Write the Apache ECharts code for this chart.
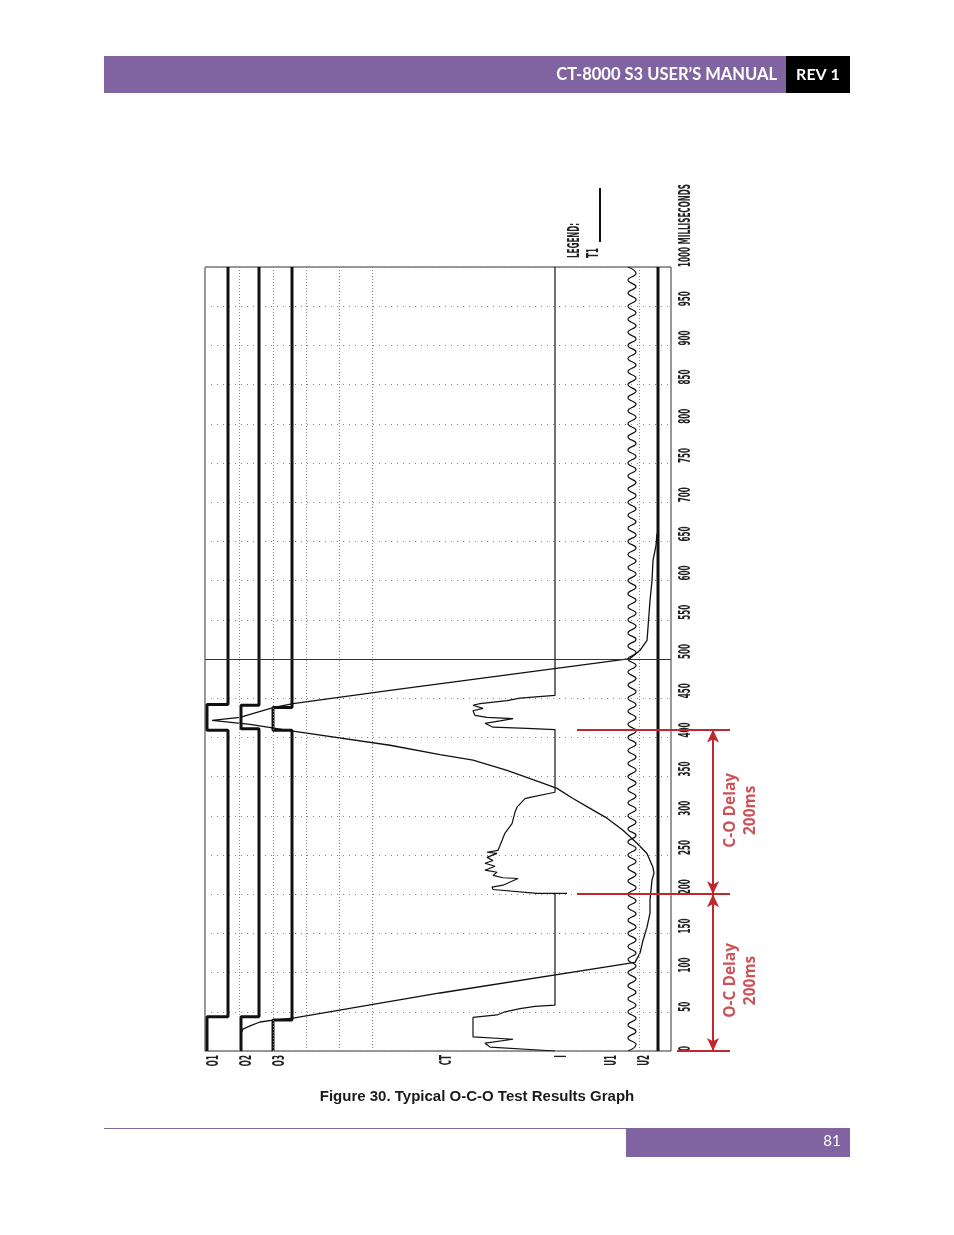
<!DOCTYPE html>
<html><head><meta charset="utf-8">
<script src="https://cdn.jsdelivr.net/npm/echarts@6/dist/echarts.min.js"></script>
<style>html,body{margin:0;padding:0;background:#fff}#c{width:954px;height:1235px}</style>
</head><body><div id="c"></div>
<script>
// ---------- DATA (time in ms on the vertical axis, plot position units across) ----------
const tickValues = [0,50,100,150,200,250,300,350,400,450,500,550,600,650,700,750,800,850,900,950,1000];
const tickLabels = ['0','50','100','150','200','250','300','350','400','450','500','550','600','650','700','750','800','850','900','950','1000 MILLISECONDS'];
const channelNames = ['O1','O2','O3','CT','I','U1','U2'];
const channelLabelPos = [2,35,68,235,350,400,433];
const verticalGuides = [34,68,101,134,167,434];
const cursorTime = [500];

const o1 = [[2,0],[2,43.7],[23,43.7],[23,409],[2,409],[2,442],[23,442],[23,1000]];
const o2 = [[36,0],[36,43.7],[54,43.7],[54,411],[36,411],[36,441],[54,441],[54,1000]];
const o3 = [[68,0],[68,39.5],[87,39.5],[87,409],[68,409],[68,438],[87,438],[87,1000]];

const travelT1 = [[36,0],[36,22.5],[38,28],[45,32],[55,37],[68,39.5],[88,42],[235,74],[430,113],[435,125],[438,141],[442,158],[445,176],[445,192],[447,218],[449,227],[448,234],[442,252],[432,265],[418,281.5],[402,297],[385,309.5],[368,322],[352,335],[335,343],[302,358],[268,371],[235,378],[185,390],[88,408],[45,416.5],[7,421.6],[35,425.5],[68,438],[88,443],[185,460],[425,500.6],[435,511],[442,523.6],[443,540],[445,574.5],[447,600],[448,625.5],[451,645],[452,660]];

const currentI = [[350,0],[350,1],[285,5],[280,10],[308,15],[268,18],[268,43],[292,46],[300,50],[315,54],[330,57],[350,58.6],[350,201],[362,201],[332,201],[288,206],[287,209],[298,211.5],[313,220],[298,221],[288,224],[292,228],[280,230.6],[290,235.7],[280,239.5],[288,243],[282,247],[292,252],[282,253.5],[293,256],[295,262],[300,278],[307,290],[310,304.5],[312,311],[320,322],[325,323.6],[350,330],[350,410],[322,411.5],[288,413],[280,418],[295,421],[308,424],[282,425.5],[270,428],[268,434],[278,437],[268,441],[275,443],[302,447],[315,450],[350,453.5],[350,1000]];

const voltageU1 = [
[423,0],[431,8.3],[423,16.7],[431,25],[423,33.3],[431,41.7],[423,50],[431,58.3],[423,66.7],[431,75],[423,83.3],[431,91.7],
[423,100],[431,108.3],[423,116.7],[431,125],[423,133.3],[431,141.7],[423,150],[431,158.3],[423,166.7],[431,175],[423,183.3],[431,191.7],
[423,200],[431,208.3],[423,216.7],[431,225],[423,233.3],[431,241.7],[423,250],[431,258.3],[423,266.7],[431,275],[423,283.3],[431,291.7],
[423,300],[431,308.3],[423,316.7],[431,325],[423,333.3],[431,341.7],[423,350],[431,358.3],[423,366.7],[431,375],[423,383.3],[431,391.7],
[423,400],[431,408.3],[423,416.7],[431,425],[423,433.3],[431,441.7],[423,450],[431,458.3],[423,466.7],[431,475],[423,483.3],[431,491.7],
[423,500],[431,508.3],[423,516.7],[431,525],[423,533.3],[431,541.7],[423,550],[431,558.3],[423,566.7],[431,575],[423,583.3],[431,591.7],
[423,600],[431,608.3],[423,616.7],[431,625],[423,633.3],[431,641.7],[423,650],[431,658.3],[423,666.7],[431,675],[423,683.3],[431,691.7],
[423,700],[431,708.3],[423,716.7],[431,725],[423,733.3],[431,741.7],[423,750],[431,758.3],[423,766.7],[431,775],[423,783.3],[431,791.7],
[423,800],[431,808.3],[423,816.7],[431,825],[423,833.3],[431,841.7],[423,850],[431,858.3],[423,866.7],[431,875],[423,883.3],[431,891.7],
[423,900],[431,908.3],[423,916.7],[431,925],[423,933.3],[431,941.7],[423,950],[431,958.3],[423,966.7],[431,975],[423,983.3],[431,991.7],
[423,1000]];
const voltageU2 = [[453,0],[453,1000]];

// annotation (red) : delay boundaries and labels
const delayBounds = [0,200,410];
const delayLabels = ['O-C Delay\n200ms','C-O Delay\n200ms'];
const delayLabelTimes = [90,307];

// ---------- CHART ----------
const PLOT_FONT = "'DejaVu Sans',sans-serif";
const SQUEEZE = 0.48;   // plotter-style condensed lettering
const RED = '#C1272D';
const INK = '#111';
const chart = echarts.init(document.getElementById('c'));

const traceLine = (name, data, width, extra) => Object.assign({
  name, type:'line', data, xAxisIndex:0, yAxisIndex:0, showSymbol:false, symbol:'none',
  lineStyle:{color:INK, width}, silent:true, animation:false, z:3
}, extra||{});

const condensedText = (name, data, texts, dx, dy, align) => ({
  name, type:'custom', xAxisIndex:0, yAxisIndex:0, silent:true, clip:false, animation:false, data,
  renderItem:(params, api) => {
    const p = api.coord([api.value(0), api.value(1)]);
    return {type:'text', x:p[0]+dx, y:p[1]+dy, rotation:Math.PI/2, scaleX:SQUEEZE, scaleY:1,
      style:{text:texts[params.dataIndex], align, verticalAlign:'top', fontFamily:PLOT_FONT, fontWeight:'bold', fontSize:15, fill:'#222'}};
  }
});

chart.setOption({
  animation:false,
  backgroundColor:'#fff',
  title:{text:'Figure 30. Typical O-C-O Test Results Graph', left:'center', top:1084,
    textStyle:{fontFamily:"'Liberation Sans',Arial,sans-serif", fontWeight:'bold', fontSize:15, color:'#1a1a1a'}},
  grid:[
    {left:205, right:283, top:267, bottom:184, show:true, borderColor:'#333', borderWidth:1, backgroundColor:'transparent'},
    {left:577, right:184, top:267, bottom:184, show:false}
  ],
  xAxis:[
    {type:'value', gridIndex:0, min:0, max:466, show:false},
    {type:'value', gridIndex:1, min:0, max:193, show:false}
  ],
  yAxis:[
    {type:'value', gridIndex:0, min:0, max:1000, interval:50, position:'right',
     axisLine:{show:false}, axisTick:{show:false}, axisLabel:{show:false},
     splitLine:{show:true, lineStyle:{color:'#888', width:1, type:[1,5]}}},
    {type:'value', gridIndex:1, min:0, max:1000, show:false}
  ],
  series:[
    traceLine('U2', voltageU2, 3, {
      markLine:{symbol:'none', silent:true, animation:false, label:{show:false},
        lineStyle:{color:'#888', width:1, type:[1,2]},
        data: verticalGuides.map(v=>({xAxis:v})).concat(cursorTime.map(t=>({yAxis:t, lineStyle:{type:'solid', color:'#333', width:1}})))}
    }),
    traceLine('O1', o1, 3),
    traceLine('O2', o2, 3),
    traceLine('O3', o3, 3),
    traceLine('T1', travelT1, 1.3),
    traceLine('I', currentI, 1.2),
    traceLine('U1', voltageU1, 1.2, {smooth:0.5}),
    condensedText('timeTicks', tickValues.map(v=>[466, v]), tickLabels, 8, 0, 'left'),
    condensedText('channelLabels', channelLabelPos.map(x=>[x, 0]), channelNames, 0, 4, 'right'),
    {
      name:'delay', type:'scatter', xAxisIndex:1, yAxisIndex:1, symbolSize:0, silent:true, clip:false,
      data: delayLabels.map((n,i)=>({name:n, value:[163.5, delayLabelTimes[i]]})),
      label:{show:true, position:'inside', rotate:90, align:'center', verticalAlign:'middle',
        formatter:'{b}', fontFamily:"'Open Sans',Lato,sans-serif", fontWeight:'bold', fontSize:15.5, lineHeight:20, color:RED},
      markLine:{silent:true, animation:false, label:{show:false}, symbol:'none',
        lineStyle:{color:RED, width:2, type:'solid'},
        data:[
          [{coord:[0,delayBounds[2]]},{coord:[153,delayBounds[2]]}],
          [{coord:[0,delayBounds[1]]},{coord:[153,delayBounds[1]]}],
          [{coord:[100,delayBounds[0]]},{coord:[153,delayBounds[0]]}],
          [{coord:[136,delayBounds[0]], symbol:'arrow', symbolSize:[9,13]},{coord:[136,delayBounds[1]], symbol:'arrow', symbolSize:[9,13]}],
          [{coord:[136,delayBounds[1]], symbol:'arrow', symbolSize:[9,13]},{coord:[136,delayBounds[2]], symbol:'arrow', symbolSize:[9,13]}]
        ]}
    }
  ],
  graphic:[
    {type:'rect', shape:{x:104,y:56,width:682,height:37}, style:{fill:'#8064A2'}, silent:true},
    {type:'rect', shape:{x:786,y:56,width:64,height:37}, style:{fill:'#000'}, silent:true},
    {type:'text', x:777, y:75, style:{text:'CT-8000 S3 USER\u2019S MANUAL', fill:'#fff', fontFamily:"Lato,'Open Sans',sans-serif", fontWeight:'bold', fontSize:16.5, align:'right', verticalAlign:'middle'}, silent:true},
    {type:'text', x:818, y:75, style:{text:'REV 1', fill:'#fff', fontFamily:"Lato,'Open Sans',sans-serif", fontWeight:'bold', fontSize:16, align:'center', verticalAlign:'middle'}, silent:true},
    {type:'line', shape:{x1:104,y1:1128.5,x2:626,y2:1128.5}, style:{stroke:'#8064A2', lineWidth:1}, silent:true},
    {type:'rect', shape:{x:626,y:1128,width:224,height:29}, style:{fill:'#8064A2'}, silent:true},
    {type:'text', x:832, y:1141, style:{text:'81', fill:'#fff', fontFamily:"Lato,'Open Sans',sans-serif", fontSize:15, align:'center', verticalAlign:'middle'}, silent:true},
    {type:'text', x:575, y:258, rotation:Math.PI/2, scaleX:SQUEEZE, style:{text:'LEGEND:', fill:'#222', fontFamily:PLOT_FONT, fontWeight:'bold', fontSize:15, align:'left', verticalAlign:'middle'}, silent:true},
    {type:'text', x:594, y:258, rotation:Math.PI/2, scaleX:SQUEEZE, style:{text:'T1', fill:'#222', fontFamily:PLOT_FONT, fontWeight:'bold', fontSize:15, align:'left', verticalAlign:'middle'}, silent:true},
    {type:'line', shape:{x1:600,y1:188,x2:600,y2:242}, style:{stroke:INK, lineWidth:2}, silent:true}
  ]
});
</script></body></html>
